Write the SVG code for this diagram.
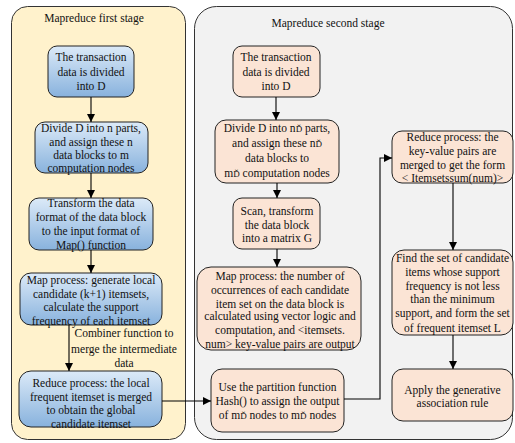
<svg xmlns="http://www.w3.org/2000/svg" width="515" height="443" viewBox="0 0 515 443" font-family="'Liberation Serif', 'Times New Roman', 'DejaVu Serif', serif">
<defs>
<linearGradient id="blue" x1="0" y1="0" x2="0" y2="1">
<stop offset="0" stop-color="#dceaf8"/>
<stop offset="1" stop-color="#88b2dd"/>
</linearGradient>
<marker id="arr" markerWidth="8" markerHeight="8" refX="8" refY="4" orient="auto" markerUnits="userSpaceOnUse">
<path d="M0,0 L8,4 L0,8 Z" fill="#000"/>
</marker>
</defs>
<style>
text{font-family:'Liberation Serif','Times New Roman','DejaVu Serif',serif;font-size:11.5px;fill:#111;text-anchor:middle}
.blue{fill:url(#blue);stroke:#222;stroke-width:1}
.peach{fill:#fbe4d5;stroke:#222;stroke-width:1}
.edge{fill:none;stroke:#000;stroke-width:1.1;marker-end:url(#arr)}
.s{font-size:9px}
</style>
<g id="stage1">
<rect x="11.5" y="6.5" width="174" height="433" rx="16" fill="#fff2cc" stroke="#333"/>
<text x="94" y="22">Mapreduce first stage</text>
</g>
<g id="stage2">
<rect x="194.5" y="6.5" width="318" height="433" rx="22" fill="#f2f2f2" stroke="#333"/>
<text x="328" y="27">Mapreduce second stage</text>
</g>
<g id="n1">
<rect class="blue" x="48" y="46" width="86" height="51" rx="9"/>
<text x="91" y="61">The transaction</text>
<text x="91" y="75.5">data is divided</text>
<text x="91" y="90">into D</text>
</g>
<g id="n2">
<rect class="blue" x="35" y="122" width="113" height="51" rx="10"/>
<text x="91" y="132">Divide D into n parts,</text>
<text x="91" y="146">and assign these n</text>
<text x="91" y="159">data blocks to m</text>
<text x="91" y="172">computation nodes</text>
</g>
<g id="n3">
<rect class="blue" x="29" y="198" width="124" height="52" rx="10"/>
<text x="91" y="207">Transform the data</text>
<text x="91" y="221">format of the data block</text>
<text x="91" y="235">to the input format of</text>
<text x="91" y="249">Map() function</text>
</g>
<g id="n4">
<rect class="blue" x="20" y="273" width="142" height="52" rx="11"/>
<text x="91" y="284">Map process: generate local</text>
<text x="91" y="298">candidate (k+1) itemsets,</text>
<text x="91" y="311">calculate the support</text>
<text x="91" y="325">frequency of each itemset</text>
</g>
<g id="n5">
<rect class="blue" x="19" y="371" width="143" height="56" rx="12"/>
<text x="91" y="387">Reduce process: the local</text>
<text x="91" y="401">frequent itemset is merged</text>
<text x="91" y="414">to obtain the global</text>
<text x="91" y="428">candidate itemset</text>
</g>
<g id="nA">
<rect class="peach" x="233" y="46" width="87" height="51" rx="9"/>
<text x="276" y="61">The transaction</text>
<text x="276" y="75.5">data is divided</text>
<text x="276" y="90">into D</text>
</g>
<g id="nB">
<rect class="peach" x="215" y="120" width="124" height="63" rx="11"/>
<text x="277" y="132">Divide D into n<tspan class="s">Ď</tspan> parts,</text>
<text x="277" y="146.5">and assign these n<tspan class="s">Ď</tspan></text>
<text x="277" y="162">data blocks to</text>
<text x="277" y="176.5">m<tspan class="s">Ď</tspan> computation nodes</text>
</g>
<g id="nC">
<rect class="peach" x="233" y="198" width="87" height="51" rx="9"/>
<text x="277" y="215">Scan, transform</text>
<text x="277" y="229">the data block</text>
<text x="277" y="242">into a matrix G</text>
</g>
<g id="nD">
<rect class="peach" x="197" y="267" width="164" height="83" rx="14"/>
<text x="280" y="280">Map process: the number of</text>
<text x="280" y="294">occurrences of each candidate</text>
<text x="280" y="308">item set on the data block is</text>
<text x="280" y="320">calculated using vector logic and</text>
<text x="280" y="334">computation, and &lt;itemsets.</text>
<text x="280" y="348">num&gt; key-value pairs are output</text>
</g>
<g id="nE">
<rect class="peach" x="211" y="369" width="133" height="63" rx="11"/>
<text x="277.5" y="391">Use the partition function</text>
<text x="277.5" y="405">Hash() to assign the output</text>
<text x="277.5" y="419">of m<tspan class="s">Ď</tspan> nodes to m<tspan class="s">Ď</tspan> nodes</text>
</g>
<g id="nF">
<rect class="peach" x="392" y="131" width="121" height="52" rx="10"/>
<text x="452.5" y="141">Reduce process: the</text>
<text x="452.5" y="155">key-value pairs are</text>
<text x="452.5" y="169">merged to get the form</text>
<text x="452.5" y="182">&lt; Itemsetssum(num)&gt;</text>
</g>
<g id="nG">
<rect class="peach" x="392" y="250" width="121" height="85" rx="12"/>
<text x="452.5" y="262">Find the set of candidate</text>
<text x="452.5" y="276">items whose support</text>
<text x="452.5" y="290">frequency is not less</text>
<text x="452.5" y="303">than the minimum</text>
<text x="452.5" y="317">support, and form the set</text>
<text x="452.5" y="332">of frequent itemset L</text>
</g>
<g id="nH">
<rect class="peach" x="392" y="369" width="121" height="52" rx="11"/>
<text x="452.5" y="394">Apply the generative</text>
<text x="452.5" y="407">association rule</text>
</g>
<g id="connectors">
<path class="edge" d="M91,97 V122"/>
<path class="edge" d="M91,173 V198"/>
<path class="edge" d="M91,250 V273"/>
<path class="edge" d="M69,325 V371"/>
<text x="124" y="337">Combiner function to</text>
<text x="124" y="353">merge the intermediate</text>
<text x="124" y="367">data</text>
<path class="edge" d="M162,401 H211"/>
<path class="edge" d="M276,97 V120"/>
<path class="edge" d="M277,183 V198"/>
<path class="edge" d="M277,249 V267"/>
<path class="edge" d="M344,399 H380 V158 H392"/>
<path class="edge" d="M453,183 V250"/>
<path class="edge" d="M453,335 V369"/>
</g>
</svg>
